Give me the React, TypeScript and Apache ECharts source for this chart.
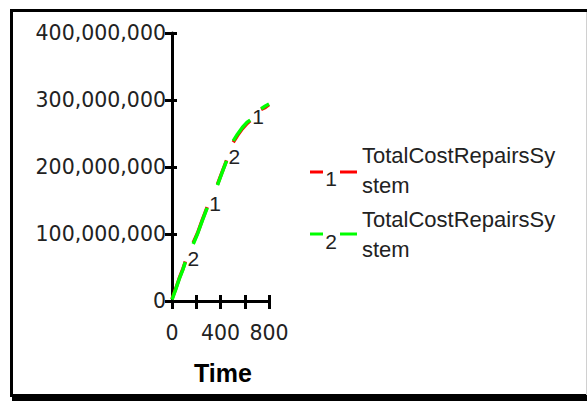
import React, { useEffect, useRef } from "react";
import * as echarts from "echarts";

const times = [0, 30, 60, 90, 110, 140, 175, 210, 250, 290, 330, 375, 410, 450, 480, 505, 540, 580, 620, 645, 700, 735, 770, 800];
const series1Values: (number | null)[] = [3e6, 18e6, 34e6, 48e6, 59e6, null, 87e6, 101e6, 121e6, 140e6, null, 174e6, 191e6, 210e6, null, 237e6, 247e6, 257e6, 265e6, 269e6, null, 286e6, 289e6, 293e6];
const series2Values: (number | null)[] = [2e6, 17e6, 33e6, 47e6, 58e6, null, 85e6, 100e6, 120e6, 139e6, null, 173e6, 190e6, 209e6, null, 239e6, 249e6, 259e6, 267e6, 270e6, null, 287e6, 291e6, 294e6];
const series1LabelAt = [9, 19];
const series2LabelAt = [4, 13];
const legendNames = ["TotalCostRepairsSy\nstem", "TotalCostRepairsSy\nstem"];
const yTicks = [0, 100000000, 200000000, 300000000, 400000000];
const xTicks = [0, 200, 400, 600, 800];

function buildData(vals: (number | null)[], labelAt: number[], tag: string) {
  return times.map((t, i) => {
    const v = vals[i];
    const item: any = { value: [t, v === null ? "-" : v] };
    if (labelAt.includes(i)) {
      item.label = {
        show: true,
        formatter: tag,
        position: "right",
        distance: 2,
        offset: [0, -4],
        color: "#222",
        fontFamily: "Liberation Sans",
        fontSize: 21,
      };
    }
    return item;
  });
}

export default function App() {
  const ref = useRef<HTMLDivElement>(null);
  useEffect(() => {
    const chart = echarts.init(ref.current!, null, { renderer: "svg" });
    const axisFont = { fontFamily: "DejaVu Sans", fontSize: 20.5, color: "#222" };
    const seriesCommon = {
      type: "line",
      showSymbol: true,
      symbol: "circle",
      symbolSize: 0.1,
      connectNulls: false,
      label: { show: false },
    };
    chart.setOption({
      animation: false,
      backgroundColor: "#fff",
      grid: { left: 172, right: 318, top: 33, bottom: 100 },
      xAxis: [
        {
          type: "value",
          min: xTicks[0],
          max: xTicks[xTicks.length - 1],
          interval: 200,
          axisLine: { show: true, lineStyle: { color: "#000", width: 3 } },
          axisTick: { show: true, inside: false, length: 8, lineStyle: { color: "#000", width: 3 } },
          splitLine: { show: false },
          axisLabel: {
            ...axisFont,
            margin: 21,
            formatter: (v: number) => (v % 400 === 0 ? String(v) : ""),
          },
        },
        {
          type: "value",
          position: "bottom",
          min: 0,
          max: 800,
          interval: 200,
          axisLine: { show: false },
          axisTick: { show: true, inside: true, length: 6, lineStyle: { color: "#000", width: 3 } },
          splitLine: { show: false },
          axisLabel: { show: false },
        },
      ],
      yAxis: [
        {
          type: "value",
          min: yTicks[0],
          max: yTicks[yTicks.length - 1],
          interval: 100000000,
          axisLine: { show: true, lineStyle: { color: "#000", width: 3 } },
          axisTick: { show: true, inside: false, length: 7, lineStyle: { color: "#000", width: 3 } },
          splitLine: { show: false },
          axisLabel: {
            ...axisFont,
            margin: 6,
            formatter: (v: number) => v.toLocaleString("en-US"),
          },
        },
        {
          type: "value",
          position: "left",
          min: 0,
          max: 400000000,
          interval: 100000000,
          axisLine: { show: false },
          axisTick: { show: true, inside: true, length: 5, lineStyle: { color: "#000", width: 3 } },
          splitLine: { show: false },
          axisLabel: { show: false },
        },
      ],
      series: [
        {
          ...seriesCommon,
          name: "1",
          data: buildData(series1Values, series1LabelAt, "1"),
          lineStyle: { color: "#ff0000", width: 3.5 },
          itemStyle: { color: "#ff0000" },
          z: 2,
        },
        {
          ...seriesCommon,
          name: "2",
          data: buildData(series2Values, series2LabelAt, "2"),
          lineStyle: { color: "#00ff00", width: 3.5 },
          itemStyle: { color: "#00ff00" },
          z: 3,
        },
      ],
      graphic: [
        { type: "rect", shape: { x: 11.5, y: 10.5, width: 600, height: 385 }, style: { fill: "none", stroke: "#000", lineWidth: 3 }, z: 10 },
        { type: "rect", shape: { x: 12, y: 396, width: 575, height: 5 }, style: { fill: "#000" }, z: 10 },
        { type: "line", shape: { x1: 586.5, y1: 12, x2: 586.5, y2: 395 }, style: { stroke: "#d0d0d0", lineWidth: 1 }, z: 10 },
        { type: "text", left: 223 - 29, top: 360, style: { text: "Time", fontFamily: "Liberation Sans", fontWeight: "bold", fontSize: 25, fill: "#000" } },
        { type: "line", shape: { x1: 310, y1: 172, x2: 323, y2: 172 }, style: { stroke: "#ff0000", lineWidth: 3 } },
        { type: "line", shape: { x1: 340, y1: 172, x2: 357, y2: 172 }, style: { stroke: "#ff0000", lineWidth: 3 } },
        { type: "text", x: 331, y: 178, style: { text: "1", fontFamily: "Liberation Sans", fontSize: 21, fill: "#222", align: "center", verticalAlign: "middle" } },
        { type: "text", x: 362, y: 170, style: { text: legendNames[0], fontFamily: "Liberation Sans", fontSize: 22, lineHeight: 30, fill: "#222", verticalAlign: "middle" } },
        { type: "line", shape: { x1: 310, y1: 234, x2: 323, y2: 234 }, style: { stroke: "#00ff00", lineWidth: 3 } },
        { type: "line", shape: { x1: 340, y1: 234, x2: 357, y2: 234 }, style: { stroke: "#00ff00", lineWidth: 3 } },
        { type: "text", x: 331, y: 241, style: { text: "2", fontFamily: "Liberation Sans", fontSize: 21, fill: "#222", align: "center", verticalAlign: "middle" } },
        { type: "text", x: 362, y: 234, style: { text: legendNames[1], fontFamily: "Liberation Sans", fontSize: 22, lineHeight: 30, fill: "#222", verticalAlign: "middle" } },
      ],
    });
    return () => chart.dispose();
  }, []);
  return <div ref={ref} style={{ position: "fixed", left: 0, top: 0, width: 587, height: 401 }} />;
}
